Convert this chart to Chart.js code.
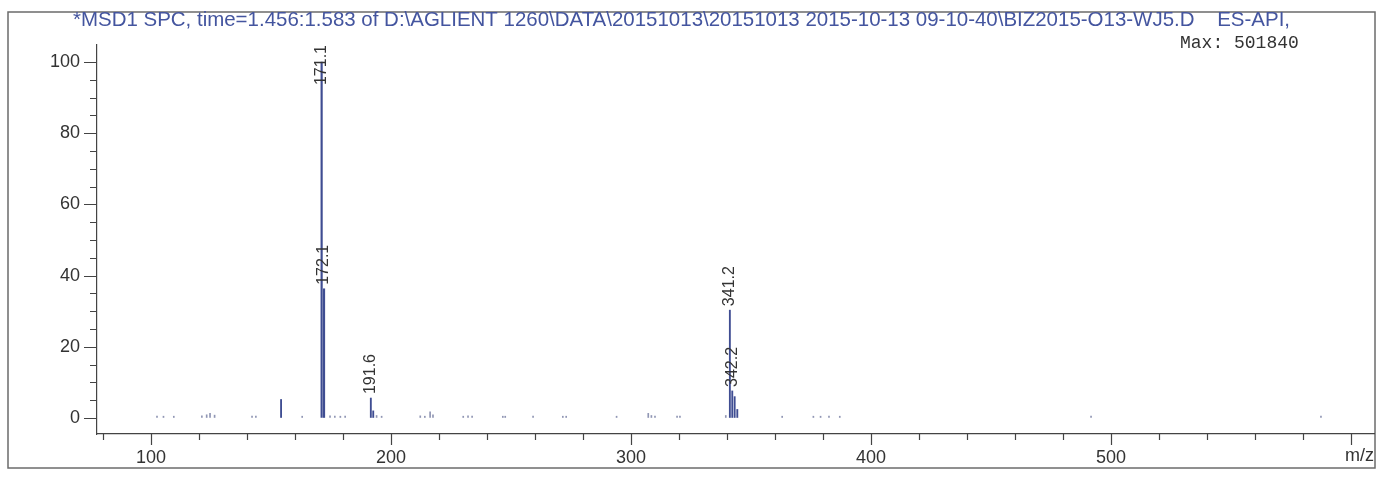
<!DOCTYPE html>
<html>
<head>
<meta charset="utf-8">
<script src="https://cdn.jsdelivr.net/npm/chart.js@4.4.1/dist/chart.umd.min.js"></script>
<style>
  body { margin: 0; background: #fff; }
  canvas { display: block; }
</style>
</head>
<body>
<canvas id="c" width="1381" height="477"></canvas>
<script>
// spectrum data (m/z, % intensity)
const strongMz  = [171.1, 172.1];
const strongInt = [100, 36.3];

const peakMz  = [154.2, 191.6, 192.6, 341.2, 342.2, 343.2, 344.3];
const peakInt = [5.2, 5.6, 2.0, 30.3, 7.6, 6.0, 2.4];

const noiseMz  = [102.5, 105.2, 109.5, 121.2, 123.2, 124.6, 126.5, 142.1, 143.7, 163.0,
                  174.6, 176.6, 178.9, 180.9, 194.0, 196.1, 212.2, 214.1, 216.3, 217.5,
                  230.1, 232.1, 233.8, 246.6, 247.6, 259.2, 271.6, 273.0, 294.0, 307.2,
                  308.5, 310.0, 319.2, 320.4, 339.5, 363.0, 376.0, 379.0, 382.5, 387.0,
                  491.7, 587.5];
const noiseInt = [0.5, 0.5, 0.5, 0.6, 0.9, 1.3, 0.8, 0.5, 0.5, 0.5,
                  0.6, 0.5, 0.5, 0.5, 0.7, 0.5, 0.6, 0.5, 1.7, 0.9,
                  0.5, 0.6, 0.5, 0.5, 0.5, 0.5, 0.5, 0.5, 0.5, 1.3,
                  0.7, 0.5, 0.5, 0.5, 0.7, 0.5, 0.5, 0.5, 0.5, 0.5,
                  0.5, 0.5];

const labelledMz = [171.1, 172.1, 191.6, 341.2, 342.2];

const xTicks = [80, 100, 120, 140, 160, 180, 200, 220, 240, 260, 280, 300, 320, 340, 360,
                380, 400, 420, 440, 460, 480, 500, 520, 540, 560, 580, 600];
const xLabels = [100, 200, 300, 400, 500];
const yTicks = [0, 20, 40, 60, 80, 100];

const titleText = '*MSD1 SPC, time=1.456:1.583 of D:\\AGLIENT 1260\\DATA\\20151013\\20151013 2015-10-13 09-10-40\\BIZ2015-O13-WJ5.D    ES-API,';
const maxText = 'Max: 501840';

const pts = (xs, ys) => xs.map((x, i) => ({ x: x, y: ys[i] }));
const allMz = strongMz.concat(peakMz);
const allInt = strongInt.concat(peakInt);

// frame, title, tick marks and peak labels
const decor = {
  id: 'decor',
  beforeDraw(chart) {
    const ctx = chart.ctx;
    ctx.save();
    ctx.fillStyle = '#fff';
    ctx.fillRect(0, 0, chart.width, chart.height);
    ctx.strokeStyle = '#6b6b6b';
    ctx.lineWidth = 1.5;
    ctx.strokeRect(8, 12, 1367, 456);
    ctx.restore();
  },
  afterDraw(chart) {
    const ctx = chart.ctx;
    const xs = chart.scales.x, ys = chart.scales.y;
    const a = chart.chartArea;
    ctx.save();
    ctx.strokeStyle = '#444';
    ctx.lineWidth = 1.2;
    ctx.beginPath();
    for (let v = 0; v <= 100; v += 5) {
      const y = Math.round(ys.getPixelForValue(v)) + 0.5;
      ctx.moveTo(a.left - (v % 20 === 0 ? 13 : 7), y);
      ctx.lineTo(a.left, y);
    }
    xTicks.forEach(v => {
      const x = Math.round(xs.getPixelForValue(v)) + 0.5;
      ctx.moveTo(x, a.bottom);
      ctx.lineTo(x, a.bottom + (v % 100 === 0 ? 11 : 6));
    });
    ctx.stroke();

    // m/z caption in place of 600
    ctx.fillStyle = '#333';
    ctx.font = '18px "Liberation Sans", Arial, sans-serif';
    ctx.textAlign = 'right';
    ctx.textBaseline = 'top';
    ctx.fillText('m/z', a.right, a.bottom + 13);

    // title, squeezed to the width it has in the picture
    ctx.font = '21px "Liberation Sans", Arial, sans-serif';
    ctx.textAlign = 'left';
    ctx.textBaseline = 'alphabetic';
    ctx.fillStyle = '#44559f';
    const tw = ctx.measureText(titleText).width;
    ctx.save();
    ctx.translate(73, 26);
    ctx.scale(1217 / tw, 1);
    ctx.fillText(titleText, 0, 0);
    ctx.restore();

    ctx.fillStyle = '#333';
    ctx.font = '18px "Liberation Mono", "Courier New", monospace';
    ctx.fillText(maxText, 1180, 48);

    // rotated peak labels
    ctx.font = '16px "Liberation Sans", Arial, sans-serif';
    ctx.fillStyle = '#333';
    ctx.textAlign = 'left';
    ctx.textBaseline = 'middle';
    labelledMz.forEach(mz => {
      const i = allMz.indexOf(mz);
      const x = xs.getPixelForValue(mz);
      const y = ys.getPixelForValue(allInt[i]);
      const w = ctx.measureText(mz.toFixed(1)).width;
      let bottom = y - 4;
      if (bottom - w < a.top) bottom = a.top + w;
      ctx.save();
      ctx.translate(x, bottom);
      ctx.rotate(-Math.PI / 2);
      ctx.fillText(mz.toFixed(1), 0, 0);
      ctx.restore();
    });
    ctx.restore();
  }
};

new Chart(document.getElementById('c'), {
  type: 'bar',
  data: {
    datasets: [
      { data: pts(noiseMz, noiseInt), backgroundColor: '#9096b4', barThickness: 1, grouped: false },
      { data: pts(peakMz, peakInt), backgroundColor: '#3f4d92', barThickness: 1.2, grouped: false },
      { data: pts(strongMz, strongInt), backgroundColor: '#3f4d92', barThickness: 1.5, grouped: false }
    ]
  },
  options: {
    responsive: false,
    animation: false,
    layout: { padding: { left: 0, top: 45, right: 7, bottom: 0 } },
    plugins: { legend: { display: false }, tooltip: { enabled: false } },
    scales: {
      x: {
        type: 'linear',
        offset: false,
        min: 77.5,
        max: 609.6,
        afterFit: s => { s.height = 43; },
        afterBuildTicks: s => { s.ticks = xTicks.map(v => ({ value: v })); },
        grid: { display: true, drawOnChartArea: false, drawTicks: false },
        border: { color: '#444', width: 1.2 },
        ticks: {
          autoSkip: false,
          maxRotation: 0,
          padding: 13,
          color: '#333',
          font: { family: '"Liberation Sans", Arial, sans-serif', size: 18 },
          callback: v => (xLabels.includes(v) ? String(v) : '')
        }
      },
      y: {
        min: -4.5,
        max: 104.8,
        afterFit: s => { s.width = 97; },
        afterBuildTicks: s => { s.ticks = yTicks.map(v => ({ value: v })); },
        grid: { display: true, drawOnChartArea: false, drawTicks: false },
        border: { color: '#444', width: 1.2 },
        ticks: {
          padding: 17,
          color: '#333',
          font: { family: '"Liberation Sans", Arial, sans-serif', size: 18 }
        }
      }
    }
  },
  plugins: [decor]
});
</script>
</body>
</html>
